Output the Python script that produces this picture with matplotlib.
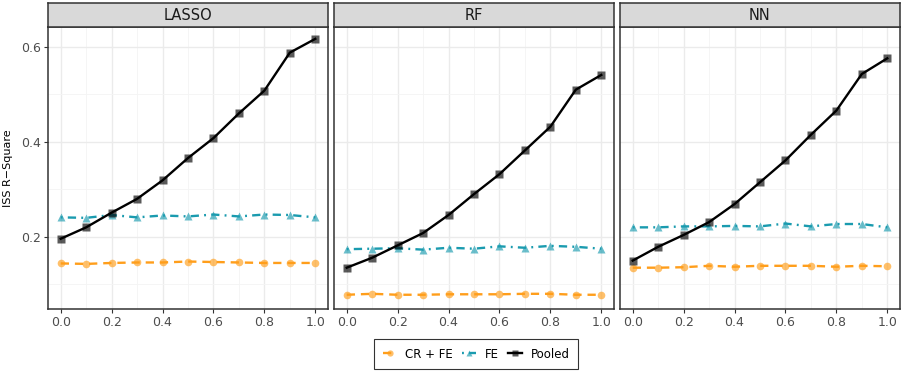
import numpy as np
import matplotlib
matplotlib.use("Agg")
import matplotlib.pyplot as plt
from matplotlib.lines import Line2D
from matplotlib.ticker import MultipleLocator, FormatStrFormatter

# share of information used
x = [0.0, 0.1, 0.2, 0.3, 0.4, 0.5, 0.6, 0.7, 0.8, 0.9, 1.0]
models = ["LASSO", "RF", "NN"]

crfe = {
    "LASSO": [0.144, 0.143, 0.145, 0.146, 0.146, 0.148, 0.147, 0.146, 0.145, 0.145, 0.145],
    "RF":    [0.078, 0.080, 0.078, 0.078, 0.079, 0.079, 0.079, 0.080, 0.080, 0.078, 0.078],
    "NN":    [0.135, 0.135, 0.136, 0.139, 0.137, 0.139, 0.139, 0.139, 0.137, 0.139, 0.138],
}
fe = {
    "LASSO": [0.241, 0.240, 0.246, 0.241, 0.245, 0.243, 0.247, 0.243, 0.247, 0.246, 0.241],
    "RF":    [0.174, 0.175, 0.176, 0.173, 0.177, 0.175, 0.180, 0.177, 0.181, 0.179, 0.175],
    "NN":    [0.220, 0.220, 0.222, 0.222, 0.223, 0.222, 0.228, 0.222, 0.227, 0.227, 0.220],
}
pooled = {
    "LASSO": [0.196, 0.220, 0.251, 0.280, 0.319, 0.366, 0.408, 0.460, 0.508, 0.588, 0.617],
    "RF":    [0.135, 0.156, 0.182, 0.208, 0.246, 0.290, 0.332, 0.382, 0.432, 0.510, 0.541],
    "NN":    [0.150, 0.179, 0.204, 0.231, 0.269, 0.315, 0.361, 0.415, 0.466, 0.543, 0.576],
}

orange = "#FF9E1B"
teal = "#1A9BAF"
styles = [
    ("CR + FE", crfe, orange, "o", (0, (3.5, 2.5))),
    ("FE", fe, teal, "^", (0, (0.8, 2.2, 3.5, 2.2))),
    ("Pooled", pooled, "black", "s", "solid"),
]

def rgba(c, a):
    r, g, b, _ = matplotlib.colors.to_rgba(c)
    return (r, g, b, a)

fig = plt.figure(figsize=(9.01, 3.71), dpi=100)
W, H = 901.0, 371.0
lefts = [48, 334, 620]
pw = 280
top, bottom = 27, 309

for i, m in enumerate(models):
    ax = fig.add_axes([lefts[i] / W, (H - bottom) / H, pw / W, (bottom - top) / H])
    for name, d, col, mk, ls in styles:
        ax.plot(x, d[m], color=col, lw=1.7, ls=ls, marker=mk, ms=5.5,
                mfc=rgba(col, 0.65), mec="none", zorder=3)
    ax.set_xlim(-0.05, 1.05)
    ax.set_ylim(0.048, 0.642)
    ax.xaxis.set_major_locator(MultipleLocator(0.2))
    ax.xaxis.set_minor_locator(MultipleLocator(0.1))
    ax.xaxis.set_major_formatter(FormatStrFormatter("%.1f"))
    ax.yaxis.set_major_locator(MultipleLocator(0.2))
    ax.yaxis.set_minor_locator(MultipleLocator(0.1))
    ax.yaxis.set_major_formatter(FormatStrFormatter("%.1f"))
    ax.grid(True, which="major", color="#EBEBEB", lw=1.0)
    ax.grid(True, which="minor", color="#F4F4F4", lw=0.6)
    ax.set_axisbelow(True)
    ax.tick_params(which="minor", length=0)
    ax.tick_params(which="major", length=3, color="#333333", width=0.8,
                   labelsize=9, labelcolor="#4D4D4D", pad=2)
    if i == 0:
        ax.set_ylabel("ISS R\u2212Square", fontsize=8, labelpad=6)
    else:
        ax.tick_params(axis="y", which="both", length=0, labelleft=False)
    for s in ax.spines.values():
        s.set_color("#333333")
        s.set_linewidth(1.1)

    # facet strip
    sax = fig.add_axes([lefts[i] / W, (H - top) / H, pw / W, 24 / H])
    sax.set_facecolor("#D9D9D9")
    sax.set_xticks([])
    sax.set_yticks([])
    for s in sax.spines.values():
        s.set_color("#333333")
        s.set_linewidth(1.1)
    sax.text(0.5, 0.5, m, ha="center", va="center", fontsize=10.5,
             color="#1A1A1A", transform=sax.transAxes)

handles = [Line2D([0], [0], color=col, lw=1.7, ls=ls, marker=mk, ms=4.5,
                  mfc=rgba(col, 0.65), mec="none")
           for name, d, col, mk, ls in styles]
leg = fig.legend(handles, [s[0] for s in styles], loc="center",
                 bbox_to_anchor=(476 / W, (H - 354) / H), ncol=3, fontsize=8.5,
                 frameon=True, fancybox=False, handlelength=1.2,
                 columnspacing=0.8, handletextpad=0.7, borderpad=0.7,
                 borderaxespad=0.0)
leg.get_frame().set_edgecolor("black")
leg.get_frame().set_linewidth(0.8)

fig.savefig("out.png", dpi=100)
